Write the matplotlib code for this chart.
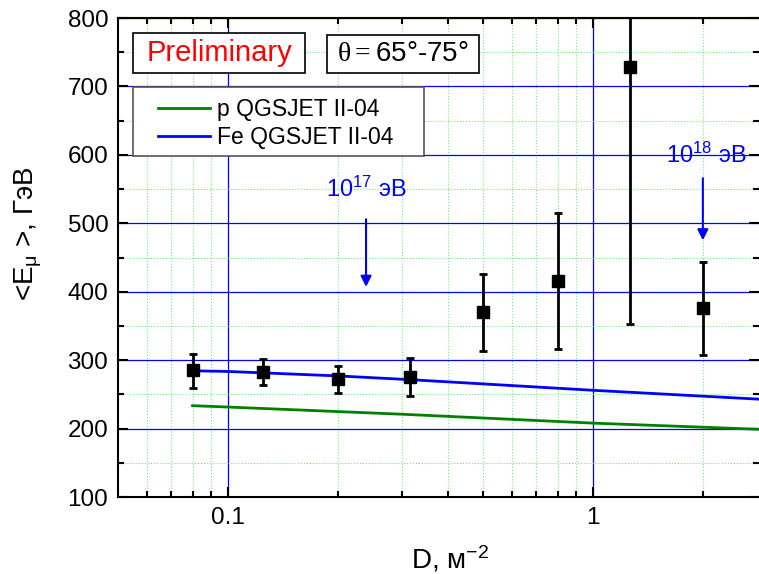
import numpy as np
import matplotlib
matplotlib.use('Agg')
import matplotlib.pyplot as plt
from matplotlib.patches import Rectangle
from matplotlib.ticker import FixedLocator, FixedFormatter, NullFormatter, MultipleLocator

plt.rcParams['font.family'] = ['Liberation Sans', 'DejaVu Sans']
plt.rcParams['mathtext.fontset'] = 'custom'
plt.rcParams['mathtext.rm'] = 'Liberation Serif'
plt.rcParams['mathtext.sf'] = 'Liberation Sans'
plt.rcParams['mathtext.it'] = 'Liberation Sans:italic'

# experimental points
D = [0.08, 0.125, 0.2, 0.316, 0.5, 0.8, 1.26, 2.0]
E = [285, 283, 272, 276, 370, 416, 729, 376]
E_up = [309, 302, 292, 303, 426, 515, 1000, 444]
E_lo = [260, 263, 252, 248, 313, 316, 353, 307]

# model curves
D_p = [0.08, 0.1, 0.3, 1.0, 2.85]
E_p = [233.5, 231.5, 221, 208, 199]
D_fe = [0.08, 0.1, 0.2, 0.316, 1.0, 2.85]
E_fe = [284.5, 283.5, 277, 271.5, 256, 243]

fig = plt.figure(figsize=(7.59, 5.74), dpi=100)
ax = fig.add_axes([0.1555, 0.1341, 0.8445, 0.8345])
ax.set_xscale('log')
ax.set_xlim(0.05, 2.85)
ax.set_ylim(100, 800)

# сетка
ax.xaxis.set_major_locator(FixedLocator([0.1, 1]))
ax.xaxis.set_major_formatter(FixedFormatter(['0.1', '1']))
ax.xaxis.set_minor_locator(FixedLocator([0.06, 0.07, 0.08, 0.09, 0.2, 0.3, 0.4, 0.5,
                                         0.6, 0.7, 0.8, 0.9, 2.0]))
ax.xaxis.set_minor_formatter(NullFormatter())
ax.yaxis.set_major_locator(MultipleLocator(100))
ax.yaxis.set_minor_locator(MultipleLocator(50))
ax.grid(which='major', color='blue', lw=0.9, zorder=0)
ax.grid(which='minor', color='#70f070', lw=0.8, ls=':', zorder=0)
ax.set_axisbelow(True)

ax.tick_params(which='both', direction='in', top=True, right=True, width=1.5,
               labelsize=17.5, pad=7)
ax.tick_params(which='major', length=7)
ax.tick_params(which='minor', length=4)
for s in ['left', 'bottom', 'top']:
    ax.spines[s].set_linewidth(1.5)
ax.spines['right'].set_visible(False)

ax.plot(D_p, E_p, color='#008000', lw=2, label='p QGSJET II-04', zorder=3)
ax.plot(D_fe, E_fe, color='#0000ff', lw=2, label='Fe QGSJET II-04', zorder=3)

E = np.array(E)
yerr = [E - np.array(E_lo), np.array(E_up) - E]
ax.errorbar(D, E, yerr=yerr, fmt='s', color='black', ms=8, ecolor='black',
            elinewidth=2, capsize=3, capthick=2, zorder=4)

# легенда в своей рамке
ax.add_patch(Rectangle((0.0234, 0.712), 0.454, 0.144, transform=ax.transAxes,
                       fc='white', ec='#555555', lw=1.2, zorder=5))
leg = ax.legend(loc='upper left', bbox_to_anchor=(0.062, 0.834), borderaxespad=0,
                fontsize=16.5, frameon=False, borderpad=0, handlelength=2.3,
                labelspacing=0.25, handletextpad=0.3)
leg.set_zorder(6)

# рамки с подписями
ax.add_patch(Rectangle((0.0234, 0.885), 0.2683, 0.084, transform=ax.transAxes,
                       fc='white', ec='black', lw=1.2, zorder=6))
ax.text(0.159, 0.927, 'Preliminary', transform=ax.transAxes, color='red',
        fontsize=21, ha='center', va='center', zorder=7)
ax.add_patch(Rectangle((0.326, 0.885), 0.237, 0.0795, transform=ax.transAxes,
                       fc='white', ec='black', lw=1.2, zorder=6))
ax.text(0.445, 0.925, r'$\mathrm{\theta = }$65°-75°', transform=ax.transAxes,
        color='black', fontsize=20, ha='center', va='center', zorder=7)

ax.annotate('', xy=(0.239, 403), xytext=(0.239, 510),
            arrowprops=dict(arrowstyle='-|>', color='blue', lw=1.5, mutation_scale=16))
ax.text(0.239, 549, r'10$^{\mathsf{17}}$ эВ', color='blue', fontsize=17,
        ha='center', va='center')
ax.annotate('', xy=(2.0, 471), xytext=(2.0, 570),
            arrowprops=dict(arrowstyle='-|>', color='blue', lw=1.5, mutation_scale=16))
ax.text(2.04, 600, r'10$^{\mathsf{18}}$ эВ', color='blue', fontsize=17,
        ha='center', va='center')

ax.set_xlabel(r'D, м$^{\mathsf{-2}}$', fontsize=20)
ax.xaxis.set_label_coords(0.518, -0.097)
ax.set_ylabel(r'<E$_{\mathsf{μ}}$ >, ГэВ', fontsize=20)
ax.yaxis.set_label_coords(-0.115, 0.55)

fig.savefig('out.png', dpi=100)
